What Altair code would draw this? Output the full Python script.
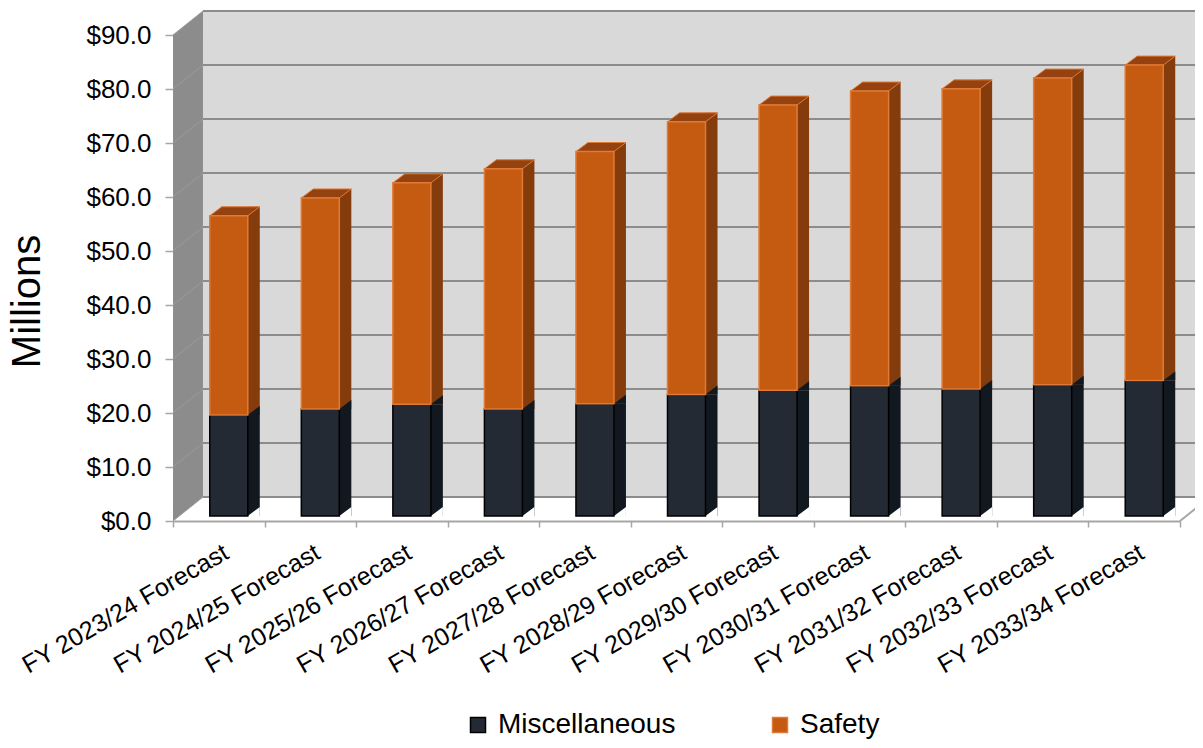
import altair as alt
import pandas as pd

# ---------------- data ----------------
categories = [
    "FY 2023/24 Forecast", "FY 2024/25 Forecast", "FY 2025/26 Forecast",
    "FY 2026/27 Forecast", "FY 2027/28 Forecast", "FY 2028/29 Forecast",
    "FY 2029/30 Forecast", "FY 2030/31 Forecast", "FY 2031/32 Forecast",
    "FY 2032/33 Forecast", "FY 2033/34 Forecast",
]
miscellaneous = [18.7, 19.8, 20.7, 19.8, 20.8, 22.5, 23.3, 24.1, 23.5, 24.3, 25.1]
safety = [36.9, 39.1, 41.0, 44.5, 46.7, 50.5, 52.8, 54.6, 55.6, 56.8, 58.4]
tick_values = [0, 10, 20, 30, 40, 50, 60, 70, 80, 90]
series_names = ["Miscellaneous", "Safety"]

df = pd.DataFrame({"category": categories, "Miscellaneous": miscellaneous, "Safety": safety})
grid_df = pd.DataFrame({"v": tick_values})

# ---------------- style ----------------
FONT = "Liberation Sans"
MISC_FRONT = "#232a34"
MISC_SIDE = "#12181f"
SAFE_FRONT = "#c55a11"
SAFE_SIDE = "#843c0c"
SAFE_TOP = "#944310"
SAFE_STROKE = "#e07a36"
WALL_BACK = "#d9d9d9"
WALL_SIDE = "#8c8c8c"
GRID = "#8c8c8c"
AXIS_GRAY = "#a6a6a6"

W, H = 1007, 486
DX, DY = 30, -24          # wall depth
BX, BY = 10, -5           # bar front offset
BW = 38                   # bar front width
SX, SY = 12, -9           # bar depth


def poly(points, r):
    return "M" + " L".join(f"{x / r:.4f},{y / r:.4f}" for x, y in points) + " Z"


yscale = alt.Scale(domain=[0, 90], nice=False, zero=True)
xscale = alt.Scale(domain=categories, paddingInner=0, paddingOuter=0)

x_axis = alt.Axis(
    title=None, labelAngle=-30, labelAlign="right", labelBaseline="middle",
    labelFontSize=25, labelColor="black", labelOffset=7, labelPadding=23,
    labelLimit=400, labelOverlap=False, tickBand="extent", tickSize=6,
    tickColor=AXIS_GRAY, tickWidth=1.5, domainColor=AXIS_GRAY, domainWidth=2, grid=False,
)
y_axis = alt.Axis(
    values=tick_values, format="$.1f", labelFontSize=26, labelColor="black",
    labelPadding=14, tickSize=8, tickColor=AXIS_GRAY, tickWidth=1.5, domain=False,
    grid=False, title="Millions", titleFontSize=40, titleFontWeight="normal",
    titleColor="black", titleX=-134, titleY=266, titleAngle=-90,
    titleBaseline="alphabetic", titleAlign="center",
)


def X():
    return alt.X("category:N", scale=xscale, axis=x_axis, sort=categories)


def Y(field):
    return alt.Y(field, scale=yscale, axis=y_axis)


grid = alt.Chart(grid_df).transform_calculate(base="0")

# ---------------- walls ----------------
back_wall = grid.transform_filter("datum.v == 90").mark_rect(
    color=WALL_BACK, yOffset=DY, y2Offset=DY
).encode(x=alt.value(DX), x2=alt.value(W + DX), y=Y("v:Q"), y2="base:Q")

back_grid = grid.mark_rule(color=GRID, strokeWidth=2, yOffset=DY).encode(
    x=alt.value(DX), x2=alt.value(W + DX), y=Y("v:Q"),
)

R_WALL = 520
left_wall_path = poly([(-15, 0), (-15, -486), (15, -510), (15, -24)], R_WALL)
left_wall = grid.transform_filter("datum.v == 0").mark_point(
    shape=left_wall_path, size=(2 * R_WALL) ** 2, filled=True, fill=WALL_SIDE,
    strokeWidth=0, opacity=1,
).encode(x=alt.value(15), y=Y("v:Q"))

left_grid = grid.mark_rule(color="#9b9b9b", strokeWidth=1, y2Offset=DY).encode(
    x=alt.value(0), x2=alt.value(DX), y=Y("v:Q"), y2="v:Q",
)

floor_edge = grid.transform_filter("datum.v == 0").mark_rule(
    color=AXIS_GRAY, strokeWidth=2, y2Offset=DY
).encode(x=alt.value(W), x2=alt.value(W + DX), y=Y("v:Q"), y2="v:Q")

# ---------------- bars (3D parts) ----------------
wide = alt.Chart(df).transform_calculate(
    total="datum.Miscellaneous + datum.Safety", base="0"
)
side_x = BX + BW / 2 + SX / 2

safety_side = wide.mark_bar(size=SX, xOffset=side_x, yOffset=BY + SY, y2Offset=BY, color=SAFE_SIDE).encode(
    x=X(), y=Y("total:Q"), y2="Miscellaneous:Q"
)
misc_side = wide.mark_bar(size=SX, xOffset=side_x, yOffset=BY, y2Offset=BY, color=MISC_SIDE).encode(
    x=X(), y=Y("Miscellaneous:Q"), y2="base:Q"
)

xr = BX + BW / 2
xl = BX - BW / 2
R_S = 50
tri_path = poly([(xr, BY), (xr + SX, BY + SY), (xr + SX, BY)], R_S)
misc_tri = wide.mark_point(shape=tri_path, size=(2 * R_S) ** 2, filled=True, fill=MISC_SIDE,
                           strokeWidth=0, opacity=1).encode(x=X(), y=Y("Miscellaneous:Q"))
floor_tri = wide.mark_point(shape=tri_path, size=(2 * R_S) ** 2, filled=True, fill="white",
                            strokeWidth=0, opacity=1).encode(x=X(), y=Y("base:Q"))
top_path = poly([(xl, BY), (xr, BY), (xr + SX, BY + SY), (xl + SX, BY + SY)], R_S)
top_face = wide.mark_point(shape=top_path, size=(2 * R_S) ** 2, filled=True, fill=SAFE_TOP,
                           stroke=SAFE_STROKE, strokeWidth=1, opacity=1).encode(x=X(), y=Y("total:Q"))

# ---------------- front faces ----------------
front = alt.Chart(df).transform_fold(series_names, as_=["series", "value"]).transform_calculate(
    order="datum.series === 'Miscellaneous' ? 0 : 1"
).mark_bar(size=BW, xOffset=BX, yOffset=BY, y2Offset=BY, strokeWidth=1.5).encode(
    x=X(),
    y=alt.Y("value:Q", stack="zero", scale=yscale, axis=y_axis),
    color=alt.Color("series:N", scale=alt.Scale(domain=series_names, range=[MISC_FRONT, SAFE_FRONT]),
                    legend=alt.Legend(title=None, orient="none", legendX=291, legendY=676,
                                      direction="horizontal", labelFontSize=28, labelColor="black",
                                      symbolType="square", symbolSize=225, labelOffset=6,
                                      labelLimit=400, columnPadding=90, symbolStrokeWidth=1.5)),
    stroke=alt.Stroke("series:N", scale=alt.Scale(domain=series_names, range=["#000000", SAFE_STROKE]),
                      legend=None),
    order=alt.Order("order:Q"),
)

chart = alt.layer(
    back_wall, back_grid, left_wall, left_grid, floor_edge,
    safety_side, misc_side, misc_tri, floor_tri, top_face, front,
).properties(
    width=W, height=H,
    autosize=alt.AutoSizeParams(type="none"),
    padding={"left": 165, "top": 27, "right": 15, "bottom": 219},
).configure(font=FONT).configure_view(stroke=None)

chart.save("out.html", embed_options={"renderer": "svg", "actions": False})
